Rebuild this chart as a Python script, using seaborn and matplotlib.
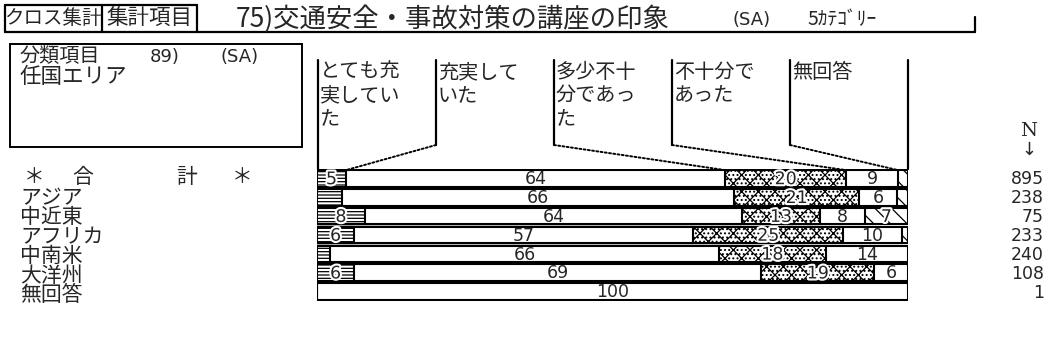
import numpy as np
import pandas as pd
import matplotlib
matplotlib.use("Agg")
import matplotlib.pyplot as plt
import matplotlib.patheffects as pe
from matplotlib.patches import ConnectionPatch
from matplotlib.transforms import blended_transform_factory
import seaborn as sns

# === Data (percent per area) ===
areas = ["合計", "アジア", "中近東", "アフリカ", "中南米", "大洋州", "無回答"]
n_counts = [895, 238, 75, 233, 240, 108, 1]
categories = ["とても充実していた", "充実していた", "多少不十分であった", "不十分であった", "無回答"]
cat_headers = ["とても充\n実してい\nた", "充実して\nいた", "多少不十\n分であっ\nた", "不十分で\nあった", "無回答"]

very_good = [4.9, 4.2, 8.1, 6.3, 2.2, 6.3, 0.0]
good = [64.2, 66.4, 63.8, 57.4, 65.8, 68.9, 100.0]
somewhat_poor = [20.4, 21.1, 13.2, 25.3, 18.1, 19.1, 0.0]
poor = [8.8, 6.4, 7.6, 10.0, 13.9, 5.7, 0.0]
no_answer = [1.7, 1.9, 7.3, 1.0, 0.0, 0.0, 0.0]

df = pd.DataFrame({"area": areas, categories[0]: very_good, categories[1]: good,
                   categories[2]: somewhat_poor, categories[3]: poor, categories[4]: no_answer})
cum = df[categories].cumsum(axis=1)

# === Style ===
sns.set_style("white")
plt.rcParams["font.family"] = ["Noto Sans CJK JP", "DejaVu Sans"]
plt.rcParams["hatch.linewidth"] = 0.9

W, H = 1048, 353
fig = plt.figure(figsize=(W / 100, H / 100), dpi=100)
ov = fig.add_axes([0, 0, 1, 1])
ov.set_xlim(0, W)
ov.set_ylim(H, 0)
ov.axis("off")

bar_left, bar_right, bar_top, bar_bot = 317, 908, 169, 301
ax = fig.add_axes([bar_left / W, 1 - bar_bot / H, (bar_right - bar_left) / W, (bar_bot - bar_top) / H])

# === Stacked bars: draw cumulative totals from the right-most category back ===
hatches = ["-----", "", "xx....", "", "\\\\"]
bw = 0.88
for k in reversed(range(len(categories))):
    sns.barplot(x=cum[categories[k]], y=df["area"], orient="h", color="white", saturation=1,
                edgecolor="black", linewidth=1.5, hatch=hatches[k], width=bw, ax=ax)

ax.set_xlim(0, 100)
ax.set_ylim(len(areas) - 0.5, -0.5)
ax.axis("off")

# value labels (white halo on hatched segments so the digits stay readable)
halo = [pe.withStroke(linewidth=3, foreground="white")]
for i in range(len(areas)):
    left = 0
    for k, c in enumerate(categories):
        v = df.loc[i, c]
        if v >= 4.5:
            ax.text(left + v / 2, i + 0.04, f"{round(v)}", ha="center", va="center", fontsize=12.5,
                    family="DejaVu Sans", path_effects=halo if hatches[k] else None)
        left += v

# === Header line ===
lk = dict(color="black", lw=1.6)
ov.plot([5, 197], [5, 5], **lk)
ov.plot([5, 975], [32, 32], **lk)
for x in [5, 102, 197]:
    ov.plot([x, x], [5, 32], **lk)
ov.plot([975, 975], [17, 32], **lk)
ov.text(53, 19, "クロス集計", ha="center", va="center", fontsize=14)
ov.text(149, 19, "集計項目", ha="center", va="center", fontsize=15.5)
ov.text(236, 19, "75)交通安全・事故対策の講座の印象", ha="left", va="center", fontsize=19)
ov.text(733, 20, "(SA)", ha="left", va="center", fontsize=13, family="DejaVu Sans")
ov.text(808, 20, "5ｶﾃｺﾞﾘｰ", ha="left", va="center", fontsize=14)

# === Classification box ===
ov.add_patch(plt.Rectangle((10, 44), 292, 103, fill=False, lw=1.4, ec="black"))
ov.text(20, 57, "分類項目", ha="left", va="center", fontsize=14.5)
ov.text(150, 57, "89)", ha="left", va="center", fontsize=13, family="DejaVu Sans")
ov.text(220, 57, "(SA)", ha="left", va="center", fontsize=13, family="DejaVu Sans")
ov.text(20, 77, "任国エリア", ha="left", va="center", fontsize=15.5)

# === Column headers and connectors ===
col_x = np.linspace(318, 908, len(categories) + 1)
for j, x in enumerate(col_x):
    end_y = bar_top if j in (0, len(categories)) else 145
    ov.plot([x, x], [60, end_y], color="black", lw=1.6)
for j, lab in enumerate(cat_headers):
    ov.text(col_x[j] + 2, 62, lab, ha="left", va="top", fontsize=14.5, linespacing=1.12)
row0 = cum.iloc[0].values
for j in range(1, len(categories)):
    con = ConnectionPatch(xyA=(col_x[j], 145), coordsA=ov.transData,
                          xyB=(row0[j - 1], -bw / 2), coordsB=ax.transData,
                          linestyle=(0, (1, 1.2)), lw=1.4, color="black")
    fig.add_artist(con)

# === Row labels ===
ov.text(24, 177, "＊", ha="left", va="center", fontsize=15)
ov.text(72, 177, "合", ha="left", va="center", fontsize=15)
ov.text(176, 177, "計", ha="left", va="center", fontsize=15)
ov.text(232, 177, "＊", ha="left", va="center", fontsize=15)
ov.text(20, 187, "\n".join(areas[1:]), ha="left", va="top", fontsize=15, linespacing=0.85)

# === N column ===
ov.text(1029, 131, "N", ha="center", va="center", fontsize=14, family="DejaVu Serif")
ov.text(1029, 150, "↓", ha="center", va="center", fontsize=13, family="DejaVu Sans")
nt = blended_transform_factory(ov.transData, ax.transData)
for i, n in enumerate(n_counts):
    ov.text(1044, i + 0.05, f"{n}", transform=nt, ha="right", va="center",
            fontsize=12.5, family="DejaVu Sans")

fig.savefig("out.png", dpi=100)
